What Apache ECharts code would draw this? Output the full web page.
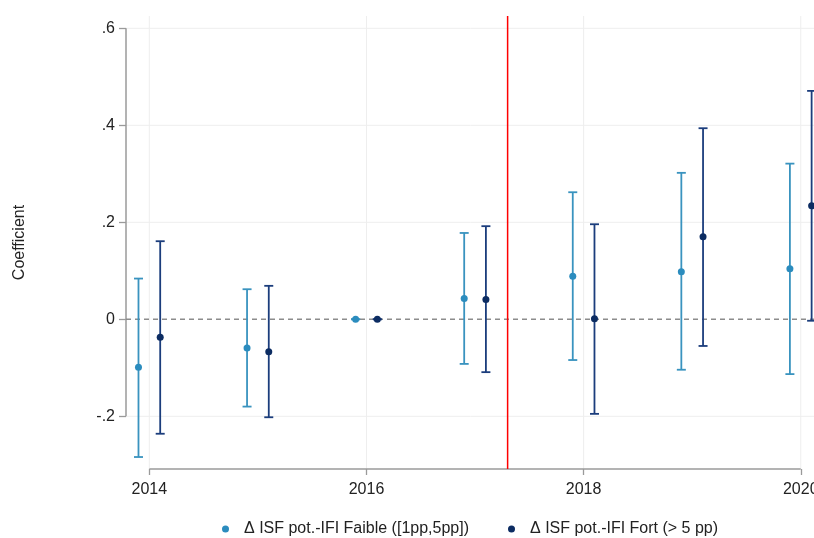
<!DOCTYPE html>
<html>
<head>
<meta charset="utf-8">
<script src="https://cdn.jsdelivr.net/npm/echarts@6/dist/echarts.min.js"></script>
<style>
html,body{margin:0;padding:0;background:#fff;}
#chart{width:814px;height:538px;}
</style>
</head>
<body>
<div id="chart"></div>
<script>
// ---- data ----
var years = [2014, 2015, 2016, 2017, 2018, 2019, 2020];
var faibleName = "\u0394 ISF pot.-IFI Faible ([1pp,5pp])";
var fortName = "\u0394 ISF pot.-IFI Fort (> 5 pp)";
var faibleCoef = [-0.099, -0.059, 0, 0.043, 0.089, 0.098, 0.104];
var faibleLo   = [-0.284, -0.180, 0, -0.092, -0.084, -0.104, -0.113];
var faibleHi   = [0.084, 0.062, 0, 0.178, 0.262, 0.302, 0.321];
var fortCoef   = [-0.037, -0.067, 0, 0.041, 0.001, 0.170, 0.234];
var fortLo     = [-0.236, -0.202, 0, -0.109, -0.195, -0.055, -0.003];
var fortHi     = [0.161, 0.069, 0, 0.192, 0.196, 0.394, 0.471];
var eventYear = 2017.3;
var xTicks = [2014, 2016, 2018, 2020];
var yTicks = [-0.2, 0, 0.2, 0.4, 0.6];
var yGrid = [-0.2, 0.2, 0.4, 0.6];
var dodge = 0.1;

// ---- styles ----
var lightLine = "#3993bf", lightDot = "#2b8cbe";
var darkLine = "#1b3d7c", darkDot = "#0c2c62";
var axisGray = "#9a9a9a", gridGray = "#eeeeee";
var FONT = "'Liberation Sans', Arial, sans-serif";

var XMIN = 2013.785, XMAX = 2020.2325, YMIN = -0.3087, YMAX = 0.6254;

function pts(coef, off) { return years.map(function (y, i) { return [y + off, coef[i]]; }); }
function bars(lo, hi, off) { return years.map(function (y, i) { return [y + off, lo[i], hi[i]]; }); }

function errRender(color) {
  return function (params, api) {
    var x = api.value(0);
    var pLo = api.coord([x, api.value(1)]);
    var pHi = api.coord([x, api.value(2)]);
    var hw = 4.5;
    var st = { stroke: color, lineWidth: 1.8 };
    return { type: 'group', children: [
      { type: 'line', shape: { x1: pLo[0], y1: pLo[1], x2: pHi[0], y2: pHi[1] }, style: st },
      { type: 'line', shape: { x1: pLo[0] - hw, y1: pLo[1], x2: pLo[0] + hw, y2: pLo[1] }, style: st },
      { type: 'line', shape: { x1: pHi[0] - hw, y1: pHi[1], x2: pHi[0] + hw, y2: pHi[1] }, style: st }
    ]};
  };
}

var chart = echarts.init(document.getElementById('chart'), null, { renderer: 'canvas' });
chart.setOption({
  animation: false,
  backgroundColor: '#ffffff',
  grid: { left: 126, top: 16, width: 700, height: 453, outerBoundsMode: 'none', containLabel: false },
  xAxis: {
    type: 'value', min: XMIN, max: XMAX,
    axisLine: { show: false, onZero: false },
    splitLine: { show: false },
    axisTick: { show: true, length: 6, lineStyle: { color: axisGray, width: 1.3 }, customValues: xTicks },
    axisLabel: { customValues: xTicks, margin: 13, fontSize: 16, color: '#222', fontFamily: FONT,
      formatter: function (v) { return String(Math.round(v)); } }
  },
  yAxis: {
    type: 'value', min: YMIN, max: YMAX,
    name: 'Coefficient', nameLocation: 'middle', nameGap: 98,
    nameTextStyle: { fontSize: 16, color: '#222', fontFamily: FONT },
    axisLine: { show: false, onZero: false },
    splitLine: { show: false },
    axisTick: { show: true, length: 7, lineStyle: { color: axisGray, width: 1.3 }, customValues: yTicks },
    axisLabel: { customValues: yTicks, margin: 11, fontSize: 16, color: '#222', fontFamily: FONT,
      formatter: function (v) {
        var r = Math.round(v * 10) / 10;
        if (r === 0) return '0';
        return String(r).replace('0.', '.');
      } }
  },
  legend: {
    left: 222, top: 521, padding: 0,
    itemWidth: 7, itemHeight: 7, itemGap: 39,
    textStyle: { fontSize: 16, color: '#222', fontFamily: FONT, padding: [0, 0, 0, 10] },
    data: [{ name: faibleName, icon: 'circle' }, { name: fortName, icon: 'circle' }]
  },
  series: [
    { // vertical gridlines
      type: 'custom', name: 'vgrid', silent: true, z: 0,
      data: xTicks,
      renderItem: function (params, api) {
        var cs = params.coordSys;
        var p = api.coord([api.value(0), 0]);
        return { type: 'line', shape: { x1: p[0], y1: cs.y, x2: p[0], y2: cs.y + cs.height },
          style: { stroke: gridGray, lineWidth: 1 } };
      }
    },
    { // horizontal gridlines
      type: 'custom', name: 'hgrid', silent: true, z: 0,
      data: yGrid.map(function (v) { return [XMIN, v]; }),
      renderItem: function (params, api) {
        var cs = params.coordSys;
        var p = api.coord([XMIN, api.value(1)]);
        return { type: 'line', shape: { x1: cs.x, y1: p[1], x2: cs.x + cs.width, y2: p[1] },
          style: { stroke: gridGray, lineWidth: 1 } };
      }
    },
    { // axis lines
      type: 'custom', name: 'axes', silent: true, z: 1, clip: false,
      data: [0],
      renderItem: function (params, api) {
        var cs = params.coordSys;
        var ya = api.coord([XMIN, yTicks[0]]), yb = api.coord([XMIN, yTicks[yTicks.length - 1]]);
        var xa = api.coord([xTicks[0], YMIN]), xb = api.coord([xTicks[xTicks.length - 1], YMIN]);
        var st = { stroke: axisGray, lineWidth: 1.5 };
        return { type: 'group', children: [
          { type: 'line', shape: { x1: cs.x, y1: ya[1], x2: cs.x, y2: yb[1] }, style: st },
          { type: 'line', shape: { x1: xa[0], y1: cs.y + cs.height, x2: xb[0], y2: cs.y + cs.height }, style: st }
        ]};
      }
    },
    { // zero line
      type: 'custom', name: 'zero', silent: true, z: 2,
      data: [[XMIN, 0]],
      renderItem: function (params, api) {
        var cs = params.coordSys;
        var p = api.coord([XMIN, api.value(1)]);
        return { type: 'line', shape: { x1: cs.x, y1: p[1], x2: cs.x + cs.width, y2: p[1] },
          style: { stroke: '#8c8c8c', lineWidth: 1.4, lineDash: [5, 4] } };
      }
    },
    { // event line
      type: 'custom', name: 'event', silent: true, z: 3,
      data: [[eventYear, 0]],
      renderItem: function (params, api) {
        var cs = params.coordSys;
        var p = api.coord([api.value(0), 0]);
        return { type: 'line', shape: { x1: p[0], y1: cs.y, x2: p[0], y2: cs.y + cs.height },
          style: { stroke: '#ff0000', lineWidth: 1.5 } };
      }
    },
    { type: 'custom', name: 'ciFaible', z: 4, data: bars(faibleLo, faibleHi, -dodge), renderItem: errRender(lightLine) },
    { type: 'custom', name: 'ciFort', z: 4, data: bars(fortLo, fortHi, dodge), renderItem: errRender(darkLine) },
    { type: 'scatter', name: faibleName, z: 5, symbol: 'circle', symbolSize: 7,
      itemStyle: { color: lightDot, opacity: 1 }, data: pts(faibleCoef, -dodge) },
    { type: 'scatter', name: fortName, z: 5, symbol: 'circle', symbolSize: 7,
      itemStyle: { color: darkDot, opacity: 1 }, data: pts(fortCoef, dodge) }
  ]
});
</script>
</body>
</html>
